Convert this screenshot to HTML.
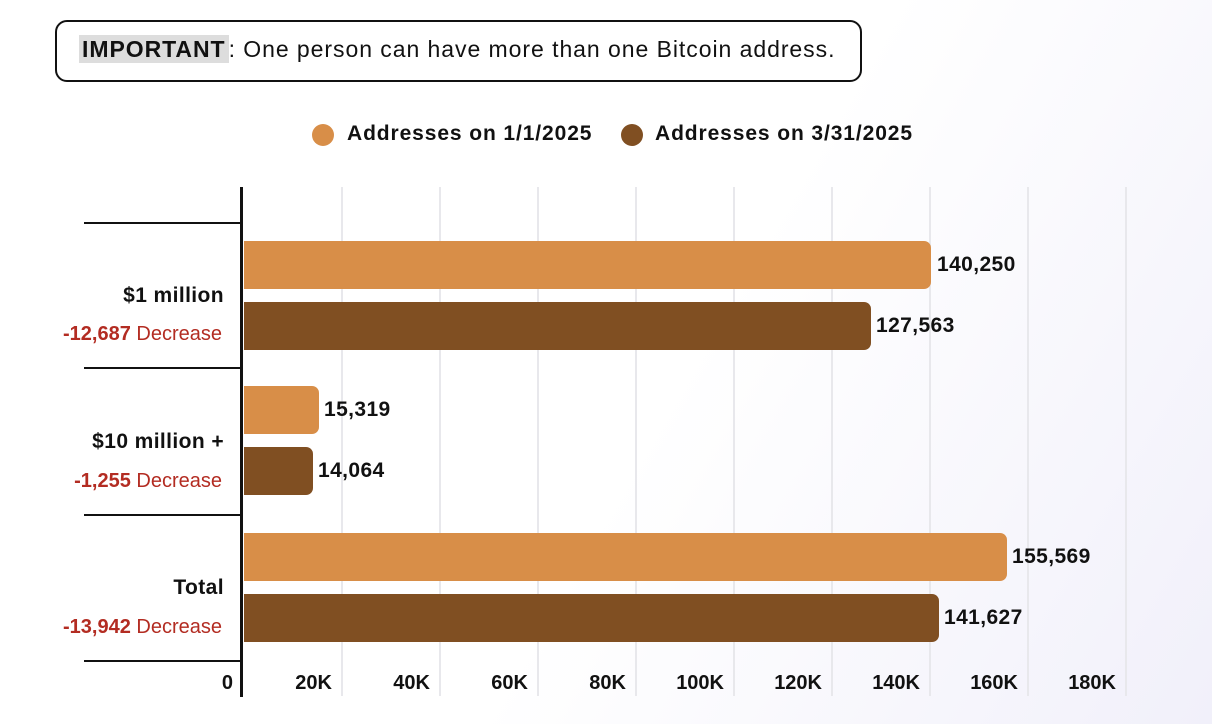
<!DOCTYPE html>
<html><head><meta charset="utf-8"><style>
body{margin:0;width:1212px;height:724px;overflow:hidden;background:linear-gradient(120deg,#fff 55%,#f1f0fa 100%);font-family:"Liberation Sans","DejaVu Sans",sans-serif;position:relative}
.a{position:absolute}
.box{left:55px;top:20px;width:803px;height:58px;border:2px solid #111;border-radius:12px;background:#fff}
.box span.t{position:absolute;left:22px;top:14px;font-size:23px;letter-spacing:0.95px;color:#111;white-space:nowrap}
.box b{background:#ddd;padding:1px 3px}
.leg{font-size:21px;letter-spacing:0.9px;font-weight:bold;color:#111;top:122px}
.dot{width:22px;height:22px;border-radius:50%;top:124px}
.grid{width:2px;background:#e8e8ec;top:187px;height:509px}
.sep{left:84px;width:158px;height:2px;background:#111}
.bar{left:244px;height:48px;border-radius:0 7px 7px 0}
.c1{background:#d88e48}.c2{background:#804f22}
.val{font-size:21px;letter-spacing:0.4px;font-weight:bold;color:#111}
.cat{right:988px;font-size:21px;letter-spacing:0.4px;font-weight:bold;color:#111;text-align:right;white-space:nowrap}
.dec{right:990px;font-size:20px;color:#b32c22;text-align:right;white-space:nowrap}
.dec b{font-weight:bold}
.tick{top:672px;font-size:20px;font-weight:bold;color:#111;text-align:right;width:60px}
</style></head><body>
<div class="a box"><span class="t"><b>IMPORTANT</b>: One person can have more than one Bitcoin address.</span></div>
<div class="a dot c1" style="left:312px"></div><div class="a leg" style="left:347px">Addresses on 1/1/2025</div>
<div class="a dot c2" style="left:621px"></div><div class="a leg" style="left:655px">Addresses on 3/31/2025</div>
<div class="a grid" style="left:341px"></div><div class="a grid" style="left:439px"></div><div class="a grid" style="left:537px"></div><div class="a grid" style="left:635px"></div><div class="a grid" style="left:733px"></div><div class="a grid" style="left:831px"></div><div class="a grid" style="left:929px"></div><div class="a grid" style="left:1027px"></div><div class="a grid" style="left:1125px"></div>
<div class="a sep" style="top:222px"></div><div class="a sep" style="top:367px"></div><div class="a sep" style="top:514px"></div><div class="a sep" style="top:660px"></div>
<div class="a" style="left:240px;top:187px;width:3px;height:510px;background:#111"></div>
<div class="a bar c1" style="top:241px;width:687px"></div><div class="a val" style="left:937px;top:253px">140,250</div>
<div class="a bar c2" style="top:302px;width:627px"></div><div class="a val" style="left:876px;top:314px">127,563</div>
<div class="a bar c1" style="top:386px;width:75px"></div><div class="a val" style="left:324px;top:398px">15,319</div>
<div class="a bar c2" style="top:447px;width:69px"></div><div class="a val" style="left:318px;top:459px">14,064</div>
<div class="a bar c1" style="top:533px;width:763px"></div><div class="a val" style="left:1012px;top:545px">155,569</div>
<div class="a bar c2" style="top:594px;width:695px"></div><div class="a val" style="left:944px;top:606px">141,627</div>
<div class="a cat" style="top:284px">$1 million</div><div class="a dec" style="top:323px"><b>-12,687</b> Decrease</div>
<div class="a cat" style="top:430px">$10 million +</div><div class="a dec" style="top:470px"><b>-1,255</b> Decrease</div>
<div class="a cat" style="top:576px">Total</div><div class="a dec" style="top:616px"><b>-13,942</b> Decrease</div>
<div class="a tick" style="left:173px">0</div>
<div class="a tick" style="left:272px">20K</div><div class="a tick" style="left:370px">40K</div><div class="a tick" style="left:468px">60K</div><div class="a tick" style="left:566px">80K</div><div class="a tick" style="left:664px">100K</div><div class="a tick" style="left:762px">120K</div><div class="a tick" style="left:860px">140K</div><div class="a tick" style="left:958px">160K</div><div class="a tick" style="left:1056px">180K</div>
</body></html>
